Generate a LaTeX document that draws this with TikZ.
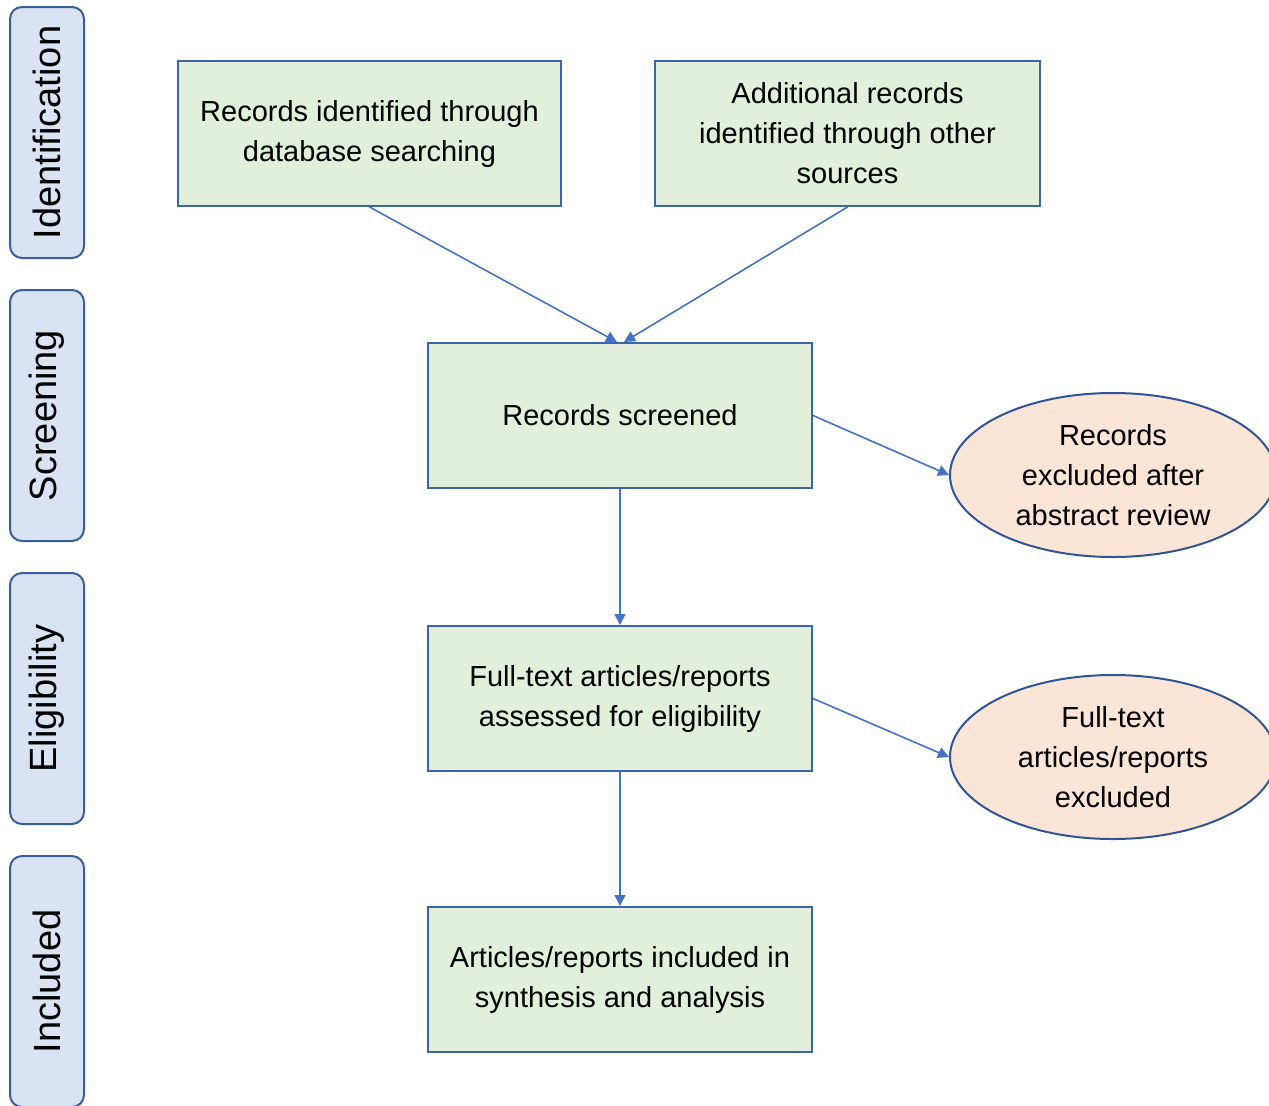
\documentclass[tikz,border=0pt]{standalone}
\usepackage{fontspec}
\setmainfont{Liberation Sans}
\usetikzlibrary{shapes.geometric,arrows.meta}
\definecolor{boxfill}{HTML}{E2EFDA}
\definecolor{boxline}{HTML}{3C64AE}
\definecolor{sidefill}{HTML}{DAE3F3}
\definecolor{sideline}{HTML}{3A5D9C}
\definecolor{ellfill}{HTML}{FBE5D6}
\definecolor{ellline}{HTML}{2F5597}
\definecolor{arrowc}{HTML}{4472C4}
\tikzset{
  greenbox/.style={draw=boxline, fill=boxfill, line width=1pt, align=center, inner sep=0pt,
    minimum height=72.5pt, font=\fontsize{14.5}{20}\selectfont},
  sidebox/.style={draw=sideline, fill=sidefill, line width=1pt, rounded corners=6pt, inner sep=0pt,
    minimum width=37pt, minimum height=125.5pt, font=\fontsize{19}{23}\selectfont},
  exbox/.style={ellipse, draw=ellline, fill=ellfill, line width=1pt, align=center, inner sep=0pt,
    minimum width=163pt, minimum height=82pt, font=\fontsize{14.5}{20}\selectfont},
  flow/.style={draw=arrowc, line width=0.8pt, -{Triangle[length=5.5pt,width=5.5pt]}}
}
\begin{document}
\begin{tikzpicture}[x=0.5pt,y=-0.5pt]
\clip (0,0) rectangle (1269,1105);
\useasboundingbox (0,0) rectangle (1269,1105);
\fill[white] (0,0) rectangle (1269,1105);

% side labels
\node[sidebox] (sid) at (47,132.5) {\rotatebox{90}{Identification}};
\node[sidebox] (ssc) at (47,415.5) {\rotatebox{90}{Screening}};
\node[sidebox] (sel) at (47,698.5) {\rotatebox{90}{Eligibility}};
\node[sidebox] (sin) at (47,981.5) {\rotatebox{90}{Included}};

% boxes
\node[greenbox, minimum width=191.5pt] (db) at (369.5,133.5) {Records identified through\\database searching};
\node[greenbox, minimum width=192.5pt] (oth) at (847.5,133.5) {Additional records\\identified through other\\sources};
\node[greenbox, minimum width=192pt] (scr) at (620,415.5) {Records screened};
\node[greenbox, minimum width=192pt] (ft) at (620,698.5) {Full-text articles/reports\\assessed for eligibility};
\node[greenbox, minimum width=192pt] (inc) at (620,979.5) {Articles/reports included in\\synthesis and analysis};

% exclusion ellipses
\node[exbox] (ex1) at (1113,475) {Records\\excluded after\\abstract review};
\node[exbox] (ex2) at (1113,757) {Full-text\\articles/reports\\excluded};

% connectors
\draw[flow] (db.south) -- ([xshift=-1.5pt]scr.north);
\draw[flow] (oth.south) -- ([xshift=2pt]scr.north);
\draw[flow] (scr.east) -- (ex1.west);
\draw[flow] (scr.south) -- (ft.north);
\draw[flow] (ft.east) -- (ex2.west);
\draw[flow] (ft.south) -- (inc.north);
\end{tikzpicture}
\end{document}
